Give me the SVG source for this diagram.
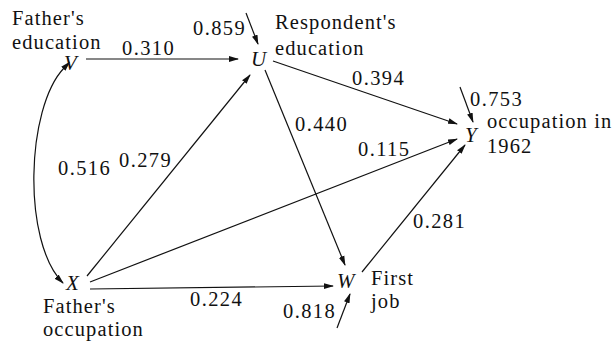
<svg xmlns="http://www.w3.org/2000/svg" width="616" height="345" viewBox="0 0 616 345">
<style>
.lbl{font-family:"Liberation Serif","Times New Roman",serif;font-size:20.5px;letter-spacing:1.1px;fill:#111}
.num{font-family:"Liberation Serif","Times New Roman",serif;font-size:20.5px;letter-spacing:1.4px;fill:#111}
.var{font-family:"Liberation Serif","Times New Roman",serif;font-style:italic;font-size:21px;fill:#111}
.edge{stroke:#111;stroke-width:1.2;fill:none;marker-end:url(#ah)}
</style>
<defs>
<marker id="ah" markerUnits="userSpaceOnUse" markerWidth="10" markerHeight="7" refX="9" refY="3.5" orient="auto">
<path d="M0,0.6 L10,3.5 L0,6.4 z" fill="#111"/>
</marker>
<marker id="ahs" markerUnits="userSpaceOnUse" markerWidth="10" markerHeight="7" refX="1" refY="3.5" orient="auto-start-reverse">
<path d="M0,0.6 L10,3.5 L0,6.4 z" fill="#111"/>
</marker>
</defs>
<g id="connectors">
<line class="edge" x1="86" y1="59" x2="238" y2="59"/>
<line class="edge" x1="246" y1="13" x2="258" y2="44"/>
<line class="edge" x1="273" y1="61" x2="457" y2="124"/>
<line class="edge" x1="265" y1="70" x2="345" y2="265"/>
<line class="edge" x1="87" y1="276" x2="250" y2="75"/>
<line class="edge" x1="90" y1="282" x2="457" y2="139"/>
<line class="edge" x1="90" y1="289" x2="333" y2="286"/>
<line class="edge" x1="362" y1="272" x2="465" y2="145"/>
<line class="edge" x1="460" y1="87" x2="473" y2="122"/>
<line class="edge" x1="337" y1="328" x2="350" y2="294"/>
<path class="edge" marker-start="url(#ahs)" d="M64,68 C26,108 22,242 63,283"/>
</g>
<g id="V"><text class="var" x="64" y="70">V</text>
<text class="lbl" x="12" y="25">Father's</text><text class="lbl" x="12" y="49">education</text></g>
<g id="U"><text class="var" x="251" y="66">U</text>
<text class="lbl" x="275" y="29">Respondent's</text><text class="lbl" x="275" y="55">education</text></g>
<g id="Y"><text class="var" x="465" y="142">Y</text>
<text class="lbl" x="487" y="128">occupation in</text><text class="lbl" x="487" y="153">1962</text></g>
<g id="X"><text class="var" x="66" y="290">X</text>
<text class="lbl" x="43" y="313">Father's</text><text class="lbl" x="43" y="336">occupation</text></g>
<g id="W"><text class="var" x="337" y="288">W</text>
<text class="lbl" x="371" y="285">First</text><text class="lbl" x="371" y="308">job</text></g>
<g id="labels">
<text class="num" x="193" y="35">0.859</text>
<text class="num" x="122" y="55">0.310</text>
<text class="num" x="352" y="85">0.394</text>
<text class="num" x="470" y="106">0.753</text>
<text class="num" x="295" y="131">0.440</text>
<text class="num" x="358" y="156">0.115</text>
<text class="num" x="119" y="167">0.279</text>
<text class="num" x="58" y="175">0.516</text>
<text class="num" x="413" y="228">0.281</text>
<text class="num" x="190" y="306">0.224</text>
<text class="num" x="283" y="318">0.818</text>
</g>
</svg>
